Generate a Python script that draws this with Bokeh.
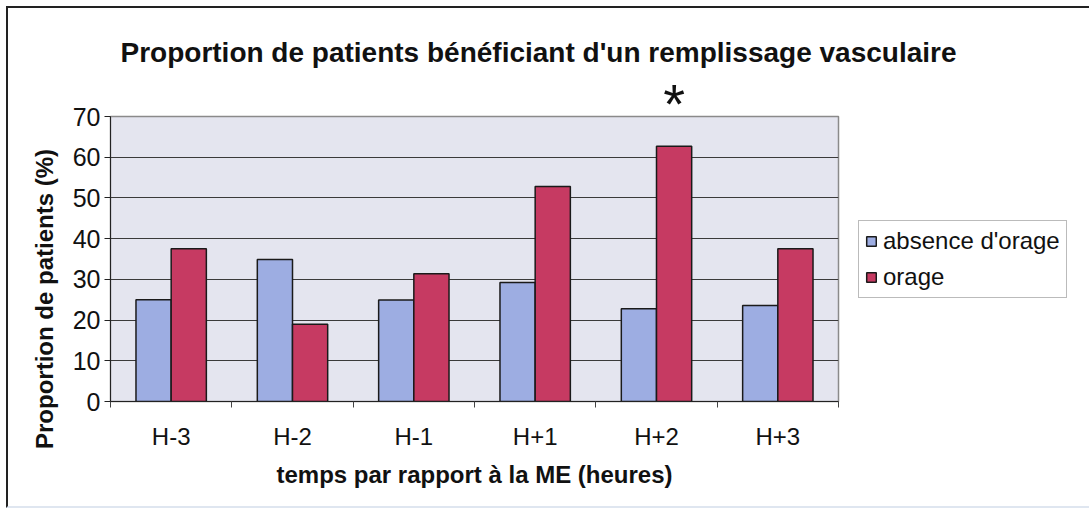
from bokeh.plotting import figure
from bokeh.models import (ColumnDataSource, FixedTicker, Legend, LegendItem,
                          Range1d, Title)
from bokeh.transform import dodge
from bokeh.embed import file_html
from bokeh.resources import INLINE

categories = ["H-3", "H-2", "H-1", "H+1", "H+2", "H+3"]
absence = [25.0, 34.9, 24.9, 29.2, 22.8, 23.6]
orage = [37.5, 19.0, 31.4, 52.8, 62.7, 37.5]
series_names = ["absence d'orage", "orage"]
y_ticks = [0, 10, 20, 30, 40, 50, 60, 70]
significant = "H+2"

FONT = "Liberation Sans"
BLUE = "#9dade2"
RED = "#c63a62"
FRAME_W = 728

pos = [i + 0.5 for i in range(len(categories))]
src = ColumnDataSource(dict(x=pos, cat=categories, a=absence, o=orage))

p = figure(frame_width=FRAME_W, frame_height=285, x_range=Range1d(0, len(categories)),
           y_range=Range1d(0, y_ticks[-1]), output_backend="svg", toolbar_location=None,
           title=None, min_border_left=102, min_border_right=0, min_border_top=108,
           min_border_bottom=105)
p.styles = {"margin-left": "6px", "margin-top": "6px",
            "border-left": "2px solid #222", "border-top": "2px solid #222",
            "border-bottom": "2px solid #dfe6f0"}

p.background_fill_color = "#e4e5ef"
p.border_fill_color = "white"
p.outline_line_color = "#8a8a8a"
p.outline_line_width = 1.5

bw = 0.29
r1 = p.vbar(x=dodge("x", -bw / 2, range=p.x_range), top="a", width=bw, source=src,
            fill_color=BLUE, line_color="#1a1a1a", line_width=1.5)
r2 = p.vbar(x=dodge("x", bw / 2, range=p.x_range), top="o", width=bw, source=src,
            fill_color=RED, line_color="#1a1a1a", line_width=1.5)

# significance marker above the H+2 "orage" bar
idx = categories.index(significant)
star_size = 56
star_x_px = (pos[idx] + bw / 2) * FRAME_W / len(categories)
star = Title(text="*", text_font=FONT, text_font_size=f"{star_size}px",
             text_font_style="normal", text_color="#111", align="left",
             offset=star_x_px - 0.389 * star_size / 2, standoff=-36)
p.add_layout(star, "above")

# main title
title = Title(text="Proportion de patients bénéficiant d'un remplissage vasculaire",
              text_font=FONT, text_font_size="28px", text_font_style="bold",
              text_color="#111", align="left", offset=10, standoff=35,
              vertical_align="top")
p.add_layout(title, "above")

# y axis
p.yaxis.ticker = FixedTicker(ticks=y_ticks)
p.yaxis.axis_label = "Proportion de patients (%)" + "\u00a0" * 12
p.yaxis.axis_label_text_font = FONT
p.yaxis.axis_label_text_font_size = "24px"
p.yaxis.axis_label_text_font_style = "bold"
p.yaxis.axis_label_text_color = "#111"
p.yaxis.axis_label_standoff = 12
p.yaxis.major_label_text_font = FONT
p.yaxis.major_label_text_font_size = "25px"
p.yaxis.major_label_text_color = "#111"
p.yaxis.major_label_standoff = 4
p.yaxis.major_tick_out = 6
p.yaxis.major_tick_in = 0
p.yaxis.minor_tick_out = 0
p.yaxis.minor_tick_in = 0
p.yaxis.axis_line_color = "#222"
p.yaxis.major_tick_line_color = "#222"

# x axis
p.xaxis.ticker = FixedTicker(ticks=pos, minor_ticks=list(range(len(categories) + 1)))
p.xaxis.major_label_overrides = {x: c for x, c in zip(pos, categories)}
p.xaxis.axis_label = "temps par rapport à la ME (heures)"
p.xaxis.axis_label_text_font = FONT
p.xaxis.axis_label_text_font_size = "24px"
p.xaxis.axis_label_text_font_style = "bold"
p.xaxis.axis_label_text_color = "#111"
p.xaxis.axis_label_standoff = 8
p.xaxis.major_label_text_font = FONT
p.xaxis.major_label_text_font_size = "24px"
p.xaxis.major_label_text_color = "#111"
p.xaxis.major_label_standoff = 15
p.xaxis.major_tick_out = 0
p.xaxis.major_tick_in = 0
p.xaxis.minor_tick_out = 6
p.xaxis.minor_tick_in = 0
p.xaxis.minor_tick_line_color = "#444"
p.xaxis.axis_line_color = "#222"

p.xgrid.grid_line_color = None
p.ygrid.ticker = FixedTicker(ticks=y_ticks[1:-1])
p.ygrid.grid_line_color = "#3a3a3a"
p.ygrid.grid_line_width = 1

# legend
legend = Legend(items=[LegendItem(label=series_names[0], renderers=[r1]),
                       LegendItem(label=series_names[1], renderers=[r2])],
                location="left")
legend.label_text_font = FONT
legend.label_text_font_size = "24px"
legend.label_text_color = "#111"
legend.glyph_width = 12
legend.glyph_height = 12
legend.label_standoff = 6
legend.spacing = 8
legend.padding = 6
legend.margin = 20
legend.border_line_color = "#777"
legend.border_line_width = 1.5
legend.background_fill_color = "white"
legend.background_fill_alpha = 1
p.add_layout(legend, "right")

open("out.html", "w").write(file_html(p, INLINE))
